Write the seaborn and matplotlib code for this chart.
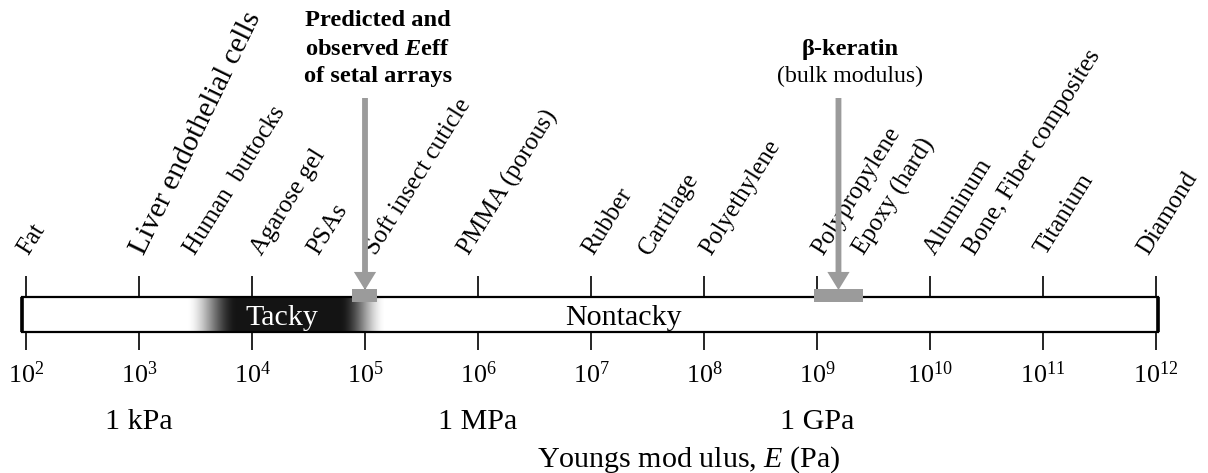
import numpy as np
import matplotlib
matplotlib.use("Agg")
import matplotlib.pyplot as plt
import seaborn as sns
from matplotlib.patches import Rectangle

# ---------------- data ----------------
decades = [2, 3, 4, 5, 6, 7, 8, 9, 10, 11, 12]
materials = ["Fat", "Liver endothelial cells", "Human  buttocks", "Agarose gel", "PSAs",
             "Soft insect cuticle", "PMMA (porous)", "Rubber", "Cartilage", "Polyethylene",
             "Polypropylene", "Epoxy (hard)", "Aluminum", "Bone, Fiber composites",
             "Titanium", "Diamond"]
material_logE = [2.02, 3.04, 3.5, 4.09, 4.59, 5.1, 5.92, 7.02, 7.52, 8.06,
                 9.05, 9.42, 10.04, 10.4, 11.02, 11.93]
unit_logE = [3, 6, 9]
unit_labels = ["1 kPa", "1 MPa", "1 GPa"]
tacky_logE = [3.42, 3.87, 4.78, 5.19]      # fade-in start, solid start, solid end, fade-out end
setal_logE = [5.0, 4.885, 5.106]           # arrow, range low, range high
keratin_logE = [9.19, 8.97, 9.41]
bar_logE = [1.965, 12.018]

# ---------------- style ----------------
sns.set_theme(style="white")
plt.rcParams["font.family"] = ["Liberation Serif", "DejaVu Serif"]
plt.rcParams["text.color"] = "black"
plt.rcParams["mathtext.fontset"] = "custom"
plt.rcParams["mathtext.rm"] = "Liberation Serif"
plt.rcParams["mathtext.it"] = "Liberation Serif:italic"
plt.rcParams["mathtext.bf"] = "Liberation Serif:bold"
plt.rcParams["mathtext.bfit"] = "Liberation Serif:bold:italic"

label_style = {"Liver endothelial cells": (21.5, 64)}
default_style = (18.0, 58)

W, H = 1208, 473
fig = plt.figure(figsize=(W / 100, H / 100), dpi=100)
ax = fig.add_axes([0, 0, 1, 1])
ax.set_xscale("log")
PX0, PXD = 26, 113
lo = 2 + (0 - PX0) / PXD
hi = 2 + (W - PX0) / PXD
ax.set_xlim(10 ** lo, 10 ** hi)
ax.set_ylim(H, 0)
ax.axis("off")
sns.despine(ax=ax, left=True, bottom=True)

BAR_TOP, BAR_BOT = 297, 332

# bar
b0, b1 = 10 ** bar_logE[0], 10 ** bar_logE[1]
ax.add_patch(Rectangle((b0, BAR_TOP), b1 - b0, BAR_BOT - BAR_TOP, facecolor="white",
                       edgecolor="none", zorder=1))
ax.add_patch(Rectangle((b0, BAR_TOP), b1 - b0, BAR_BOT - BAR_TOP, facecolor="none",
                       edgecolor="black", lw=1.6, zorder=3))
ax.vlines([b0, b1], BAR_TOP, BAR_BOT, color="black", lw=2.6, zorder=3)

# tacky gradient
edges = np.linspace(tacky_logE[0], tacky_logE[3], 401)
cent = (edges[:-1] + edges[1:]) / 2
def smooth(t):
    t = np.clip(t, 0, 1)
    return t * t * (3 - 2 * t)
dark = np.where(cent < tacky_logE[1],
                smooth((cent - tacky_logE[0]) / (tacky_logE[1] - tacky_logE[0])),
                np.where(cent > tacky_logE[2],
                         smooth((tacky_logE[3] - cent) / (tacky_logE[3] - tacky_logE[2])), 1.0))
gray = 1 - 0.92 * dark
ax.pcolormesh(10 ** edges, [BAR_TOP, BAR_BOT], gray[None, :], cmap="gray",
              vmin=0, vmax=1, shading="flat", zorder=2)

# ticks
xs = [10.0 ** d for d in decades]
ax.vlines(xs, 276, BAR_TOP, color="black", lw=1.2, zorder=3)
ax.vlines(xs, BAR_BOT, 350, color="black", lw=1.2, zorder=3)
for d in decades:
    ax.text(10.0 ** d, 383, f"$10^{{{d}}}$", ha="center", va="baseline", fontsize=18.7)

# unit labels and axis title
for u, lab in zip(unit_logE, unit_labels):
    ax.text(10.0 ** u, 429, lab, ha="center", va="baseline", fontsize=21.6)
ax.text(10 ** 7.867, 467, "Youngs mod ulus, $E$ (Pa)", ha="center", va="baseline", fontsize=21.6)

# bar texts
ax.text(10 ** 4.265, 325, "Tacky", ha="center", va="baseline", fontsize=21.6, color="white", zorder=5)
ax.text(10 ** 7.283, 325, "Nontacky", ha="center", va="baseline", fontsize=21.6, color="black", zorder=5)

# materials
for m, e in zip(materials, material_logE):
    fs, rot = label_style.get(m, default_style)
    ax.text(10 ** e, 256, m, rotation=rot, rotation_mode="anchor", ha="left", va="baseline",
            fontsize=fs)

# arrows
ARROW = "#9b9b9b"
for (c, r0, r1) in [setal_logE, keratin_logE]:
    ax.add_patch(Rectangle((10 ** r0, 289), 10 ** r1 - 10 ** r0, 13, facecolor=ARROW,
                           edgecolor="none", zorder=4))
    ax.annotate("", xy=(10 ** c, 290), xytext=(10 ** c, 98),
                arrowprops=dict(width=4.2, headwidth=16, headlength=13, facecolor=ARROW,
                                edgecolor="none", shrink=0), zorder=4)

# annotations
ax.text(10 ** 5.115, 26, "Predicted and", ha="center", va="baseline", fontsize=17.6, fontweight="bold")
ax.text(10 ** 5.115, 55, r"observed $\mathbfit{E}$eff", ha="center", va="baseline", fontsize=17.6,
        fontweight="bold")
ax.text(10 ** 5.115, 82, "of setal arrays", ha="center", va="baseline", fontsize=17.6, fontweight="bold")
ax.text(10 ** 9.292, 55, "β-keratin", ha="center", va="baseline", fontsize=17.6, fontweight="bold")
ax.text(10 ** 9.292, 82, "(bulk modulus)", ha="center", va="baseline", fontsize=17.2)

fig.savefig("out.png", dpi=100, facecolor="white")
